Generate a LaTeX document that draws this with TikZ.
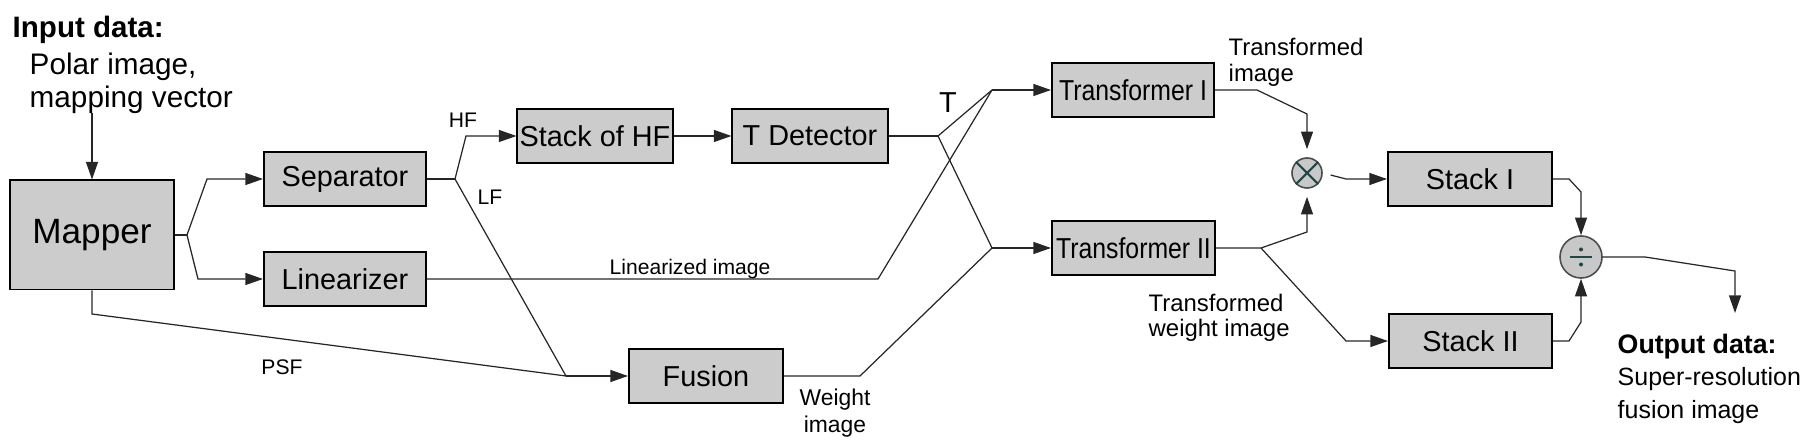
\documentclass[tikz,border=0pt]{standalone}
\usepackage{fontspec}
\setmainfont{Liberation Sans}
\newfontfamily\narrowfont[FakeStretch=0.86]{Liberation Sans}
\usetikzlibrary{arrows.meta}
\definecolor{boxgray}{RGB}{204,204,204}
\definecolor{opgray}{RGB}{200,200,200}
\definecolor{symteal}{RGB}{30,72,72}
\tikzset{
  block/.style={draw, line width=0.55pt, fill=boxgray, minimum width=1.62cm, minimum height=0.54cm, inner sep=0pt, font=\fontsize{8.2}{9}\selectfont},
  wire/.style={line width=0.35pt, black!85},
  lbl/.style={inner sep=0pt, font=\fontsize{6}{7}\selectfont},
  opnode/.style={circle, draw=black!70, line width=0.45pt, fill=opgray, inner sep=0pt}
}
\begin{document}
\begin{tikzpicture}[x=0.01cm, y=-0.01cm, >={Triangle[length=5pt,width=3.4pt]}]
\useasboundingbox (0,0) rectangle (1812,440);
% input and output data
\node[anchor=base west, inner sep=0pt, font=\fontsize{8.4}{10}\selectfont\bfseries] (inhead) at (12,38) {Input data:};
\node[anchor=north west, inner sep=0pt, align=left, font=\fontsize{8.45}{9.4}\selectfont] (intext) at (29,52) {Polar image,\\mapping vector};
\node[anchor=north west, inner sep=0pt, font=\fontsize{7.6}{9}\selectfont\bfseries] (outhead) at (1617,333) {Output data:};
\node[anchor=north west, inner sep=0pt, align=left, font=\fontsize{7.1}{9.4}\selectfont] (outtext) at (1617,367) {Super-resolution\\fusion image};

% blocks
\node[block, minimum width=1.63cm, minimum height=1.09cm, font=\fontsize{10}{12}\selectfont] (mapper) at (92,235) {Mapper};
\node[block] (separator) at (345,179) {Separator};
\node[block] (linearizer) at (345,279) {Linearizer};
\node[block, minimum width=1.55cm] (stackhf) at (595,136) {Stack of HF};
\node[block, minimum width=1.55cm] (tdetector) at (810,136) {T Detector};
\node[block, minimum width=1.54cm] (fusion) at (706,376) {Fusion};
\node[block, font={\fontsize{8.2}{9}\narrowfont}] (transI) at (1133,90) {Transformer I};
\node[block, minimum width=1.63cm, font={\fontsize{8.2}{9}\narrowfont}] (transII) at (1133.5,248) {Transformer II};
\node[block, minimum width=1.64cm] (stackI) at (1470,179) {Stack I};
\node[block, minimum width=1.63cm] (stackII) at (1470.5,341) {Stack II};
\node[opnode, minimum size=0.30cm] (mult) at (1307,173) {};
\node[opnode, minimum size=0.42cm] (divide) at (1581,257) {};
\draw[symteal, line width=0.6pt] (mult.45) -- (mult.225) (mult.135) -- (mult.315);
\draw[symteal, line width=0.4pt] ([xshift=-0.11cm]divide.center) -- ([xshift=0.11cm]divide.center);
\fill[symteal] ([yshift=0.075cm]divide.center) circle (0.02cm);
\fill[symteal] ([yshift=-0.075cm]divide.center) circle (0.02cm);

% labels
\node[lbl, anchor=base] (hf) at (463,128) {HF};
\node[lbl, anchor=base] (lf) at (490,205) {LF};
\node[lbl, anchor=base] (psf) at (282,375) {PSF};
\node[lbl, anchor=base] (linimg) at (690,275) {Linearized image};
\node[lbl, anchor=base, font=\fontsize{8.2}{9}\selectfont] (tlbl) at (948,113) {T};
\node[lbl, anchor=north, align=center, font=\fontsize{6.5}{7.7}\selectfont] (wimg) at (835,388) {Weight\\image};
\node[lbl, anchor=north west, align=left, font=\fontsize{6.8}{7.4}\selectfont] (timg) at (1228,37) {Transformed\\image};
\node[lbl, anchor=north west, align=left, font=\fontsize{6.8}{7.2}\selectfont] (twimg) at (1148,293) {Transformed\\weight image};

% junctions
\coordinate (inarrow) at (92,113);
\coordinate (msplit) at (187,235);
\coordinate (msepbend) at (207,179);
\coordinate (mlinbend) at (198,279);
\coordinate (mdrop) at (92,314);
\coordinate (fjoin) at (566,376);
\coordinate (ssplit) at (455,179);
\coordinate (shfbend) at (466,136);
\coordinate (tsplit) at (938,136);
\coordinate (tIjoin) at (992,90);
\coordinate (tIIjoin) at (992,248);
\coordinate (lbend) at (878,279);
\coordinate (fbend) at (860,376);
\coordinate (tIa) at (1257,90);
\coordinate (tIb) at (1307,114);
\coordinate (tIIa) at (1261,248);
\coordinate (tIIb) at (1307,232);
\coordinate (tIIc) at (1346,341);
\coordinate (mbend) at (1346,179);
\coordinate (sIa) at (1569,179);
\coordinate (sIb) at (1581,192);
\coordinate (sIIa) at (1569,341);
\coordinate (sIIb) at (1581,322);
\coordinate (dA) at (1645,257);
\coordinate (dB) at (1735,271);
\coordinate (outarrow) at (1735,313);

% connectors
\draw[wire,->] (inarrow) -- (mapper.north);
\draw[wire] (mapper.east) -- (msplit);
\draw[wire,->] (msplit) -- (msepbend) -- (separator.west);
\draw[wire,->] (msplit) -- (mlinbend) -- (linearizer.west);
\draw[wire] (mapper.south) -- (mdrop) -- (fjoin);
\draw[wire] (separator.east) -- (ssplit);
\draw[wire,->] (ssplit) -- (shfbend) -- (stackhf.west);
\draw[wire] (ssplit) -- (fjoin);
\draw[wire,->] (fjoin) -- (fusion.west);
\draw[wire,->] (stackhf.east) -- (tdetector.west);
\draw[wire] (tdetector.east) -- (tsplit);
\draw[wire] (tsplit) -- (tIjoin);
\draw[wire] (tsplit) -- (tIIjoin);
\draw[wire] (linearizer.east) -- (lbend) -- (tIjoin);
\draw[wire] (fusion.east) -- (fbend) -- (tIIjoin);
\draw[wire,->] (tIjoin) -- (transI.west);
\draw[wire,->] (tIIjoin) -- (transII.west);
\draw[wire,->, shorten >=0.08cm] (transI.east) -- (tIa) -- (tIb) -- (mult.north);
\draw[wire,->, shorten >=0.08cm] (transII.east) -- (tIIa) -- (tIIb) -- (mult.south);
\draw[wire,->] (tIIa) -- (tIIc) -- (stackII.west);
\draw[wire,->, shorten <=0.08cm] (mult.east) -- (mbend) -- (stackI.west);
\draw[wire,->] (stackI.east) -- (sIa) -- (sIb) -- (divide.north);
\draw[wire,->] (stackII.east) -- (sIIa) -- (sIIb) -- (divide.south);
\draw[wire,->] (divide.east) -- (dA) -- (dB) -- (outarrow);
\end{tikzpicture}
\end{document}
